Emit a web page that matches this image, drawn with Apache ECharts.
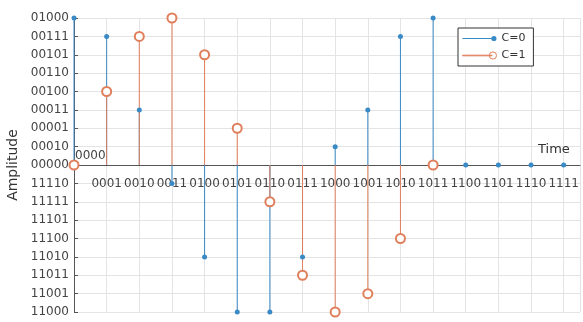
<!DOCTYPE html>
<html>
<head>
<meta charset="utf-8">
<script src="https://cdn.jsdelivr.net/npm/echarts@6/dist/echarts.min.js"></script>
<style>
  html, body { margin: 0; padding: 0; background: #fff; }
  #main { width: 583px; height: 322px; }
</style>
</head>
<body>
<div id="main"></div>
<script>
// tick labels
var xLabels = ['0000', '0001', '0010', '0011', '0100', '0101', '0110', '0111',
  '1000', '1001', '1010', '1011', '1100', '1101', '1110', '1111'];
// y labels from +8 (top) down to -8 (bottom)
var yLabels = ['01000', '00111', '00101', '00110', '00100', '00011', '00001', '00010', '00000',
  '11110', '11111', '11101', '11100', '11010', '11011', '11001', '11000'];
// series values
var c0 = [8, 7, 3, -1, -5, -8, -8, -5, 1, 3, 7, 8, 0, 0, 0, 0];
var c1 = [0, 4, 7, 8, 6, 2, -2, -6, -8, -7, -4, 0];

var blue = '#3a8ac6';
var orange = '#e07f5c';

function pairs(arr) {
  var out = [];
  for (var i = 0; i < arr.length; i++) out.push([i, arr[i]]);
  return out;
}

function stem(color) {
  return function (params, api) {
    var x = api.value(0), v = api.value(1);
    var p0 = api.coord([x, 0]);
    var p1 = api.coord([x, v]);
    return {
      type: 'line',
      shape: { x1: p0[0], y1: p0[1], x2: p1[0], y2: p1[1] },
      style: { stroke: color, lineWidth: 1 }
    };
  };
}

var font = 'DejaVu Sans';
var gridTop = 18, gridBottom = 10, H = 322;
var myChart = echarts.init(document.getElementById('main'));

var option = {
  animation: false,
  textStyle: { fontFamily: font },
  grid: { left: 74, right: 3, top: gridTop, bottom: gridBottom, containLabel: false, outerBoundsMode: 'none' },
  legend: {
    orient: 'vertical',
    left: 458,
    top: 28,
    padding: [5, 8, 5, 4],
    itemGap: 6,
    itemWidth: 34,
    itemHeight: 8,
    borderColor: '#333',
    borderWidth: 1,
    backgroundColor: '#fff',
    textStyle: { fontSize: 11, color: '#333', fontFamily: font },
    data: [
      { name: 'C=0', icon: 'path://M0,3.6H30V4.4H0Z M34,4A2.6,2.6 0 1 1 28.8,4A2.6,2.6 0 1 1 34,4Z',
        itemStyle: { color: blue } },
      { name: 'C=1', icon: 'path://M0,3.7H29.6V4.3H0Z M34,4A3.6,3.6 0 1 1 26.8,4A3.6,3.6 0 1 1 34,4Z',
        itemStyle: { color: 'rgba(255,255,255,0)', borderColor: orange, borderWidth: 1 } }
    ]
  },
  xAxis: {
    type: 'value',
    min: 0,
    max: 15.5,
    interval: 1,
    // move the whole axis (line + labels) up to y = 0
    offset: -(H - gridTop - gridBottom) / 2,
    name: 'Time',
    nameLocation: 'end',
    nameGap: -42,
    nameTextStyle: { fontSize: 13, color: '#333', verticalAlign: 'bottom', padding: [0, 0, 9, 0] },
    axisLine: { onZero: false, lineStyle: { color: '#555', width: 1 } },
    axisTick: { show: false },
    axisLabel: {
      fontSize: 12,
      color: '#444',
      margin: 13,
      showMaxLabel: false,
      formatter: function (v) {
        if (v === 0) return '';
        return xLabels[v] || '';
      }
    },
    splitLine: { show: true, lineStyle: { color: '#e4e4e4', width: 1 } }
  },
  yAxis: {
    type: 'value',
    min: -8,
    max: 8,
    interval: 1,
    name: 'Amplitude',
    nameLocation: 'middle',
    nameGap: 45,
    nameTextStyle: { fontSize: 14, color: '#333' },
    axisLine: { show: true, onZero: false, lineStyle: { color: '#555', width: 1 } },
    axisTick: { show: true, inside: true, length: 4, lineStyle: { color: '#555' } },
    axisLabel: {
      fontSize: 12,
      color: '#444',
      margin: 5,
      formatter: function (v) { return yLabels[8 - v]; }
    },
    splitLine: { show: true, lineStyle: { color: '#e4e4e4', width: 1 } }
  },
  series: [
    {
      name: 'stem0',
      type: 'custom',
      silent: true,
      renderItem: stem(blue),
      encode: { x: 0, y: 1 },
      data: pairs(c0),
      z: 2
    },
    {
      name: 'C=0',
      type: 'line',
      data: pairs(c0),
      symbol: 'circle',
      symbolSize: 5,
      showAllSymbol: true,
      itemStyle: { color: blue },
      lineStyle: { opacity: 0 },
      z: 3
    },
    {
      name: 'stem1',
      type: 'custom',
      silent: true,
      renderItem: stem(orange),
      encode: { x: 0, y: 1 },
      data: pairs(c1),
      z: 2
    },
    {
      name: 'C=1',
      type: 'line',
      data: pairs(c1),
      symbol: 'emptyCircle',
      symbolSize: 9,
      showAllSymbol: true,
      itemStyle: { color: orange, borderWidth: 1 },
      lineStyle: { opacity: 0 },
      z: 4
    }
  ]
};
myChart.setOption(option);

// first tick label sits above the axis, left of the plot start
var p = myChart.convertToPixel({ gridIndex: 0 }, [0, 0]);
myChart.setOption({
  graphic: [{
    type: 'text',
    x: p[0] + 1,
    y: p[1] - 3,
    style: { text: xLabels[0], font: '12px "DejaVu Sans"', fill: '#444', textVerticalAlign: 'bottom' },
    z: 10
  }]
});
</script>
</body>
</html>
